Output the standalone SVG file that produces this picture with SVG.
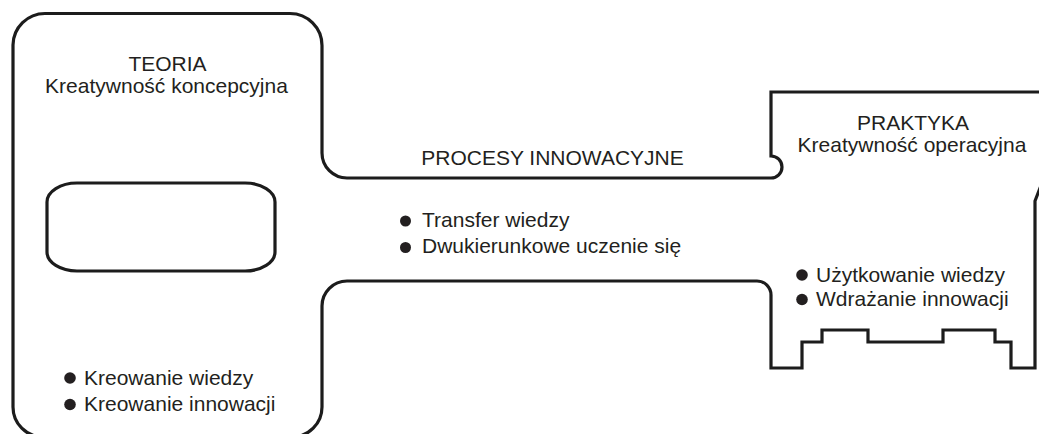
<svg xmlns="http://www.w3.org/2000/svg" width="1039" height="434" viewBox="0 0 1039 434">
  <style>
    .outline { fill: none; stroke: #1c1c1c; stroke-width: 3.2; stroke-linejoin: miter; }
    .title { font-family: "Liberation Sans", Arial, sans-serif; font-size: 21px; fill: #231f20; text-anchor: middle; }
    .item { font-family: "Liberation Sans", Arial, sans-serif; font-size: 21px; fill: #231f20; }
    .dot { fill: #231f20; }
  </style>
  <rect x="0" y="0" width="1039" height="434" fill="#ffffff"/>

  <!-- key outline: bow (left), shaft (middle), bit with teeth (right) -->
  <g id="outline">
    <path class="outline" d="M 13 45 A 32 32 0 0 1 45 13.5 L 290 13.5 A 32 32 0 0 1 322 45.5 L 322 153 A 25 25 0 0 0 347 178 L 771 178 A 11 11 0 0 0 771 156 L 771 92 L 1045 92 L 1045 175 L 1035 201 L 1035 368 L 1011 368 L 1011 342 L 995 342 L 995 330 L 943 330 L 943 342 L 868 342 L 868 330 L 822 330 L 822 342 L 802 342 L 802 368 L 771 368 L 771 295 A 14 14 0 0 0 757 281 L 347 281 A 25 25 0 0 0 322 306 L 322 407 A 30 30 0 0 1 292 437 L 43 437 A 30 30 0 0 1 13 407 Z"/>
    <!-- hole in the bow -->
    <path class="outline" d="M 47 202 A 30 19 0 0 1 77 183 L 245 183 A 30 19 0 0 1 275 202 L 275 252 A 30 19 0 0 1 245 271 L 77 271 A 30 19 0 0 1 47 252 Z"/>
  </g>

  <g id="teoria">
    <text class="title" x="167.5" y="70.5">TEORIA</text>
    <text class="title" x="166.5" y="93">Kreatywność koncepcyjna</text>
    <circle class="dot" cx="70" cy="378" r="5.8"/>
    <text class="item" x="84" y="385">Kreowanie wiedzy</text>
    <circle class="dot" cx="70" cy="404.5" r="5.8"/>
    <text class="item" x="84" y="411">Kreowanie innowacji</text>
  </g>

  <g id="procesy">
    <text class="title" x="552.5" y="165">PROCESY INNOWACYJNE</text>
    <circle class="dot" cx="405.5" cy="221" r="5.5"/>
    <text class="item" x="422" y="226.5">Transfer wiedzy</text>
    <circle class="dot" cx="405.5" cy="247.5" r="5.5"/>
    <text class="item" x="422" y="252.5">Dwukierunkowe uczenie się</text>
  </g>

  <g id="praktyka">
    <text class="title" x="913" y="130">PRAKTYKA</text>
    <text class="title" x="912" y="152">Kreatywność operacyjna</text>
    <circle class="dot" cx="802" cy="275" r="5.8"/>
    <text class="item" x="816" y="282">Użytkowanie wiedzy</text>
    <circle class="dot" cx="802" cy="299.5" r="5.8"/>
    <text class="item" x="816" y="305.5">Wdrażanie innowacji</text>
  </g>
</svg>
